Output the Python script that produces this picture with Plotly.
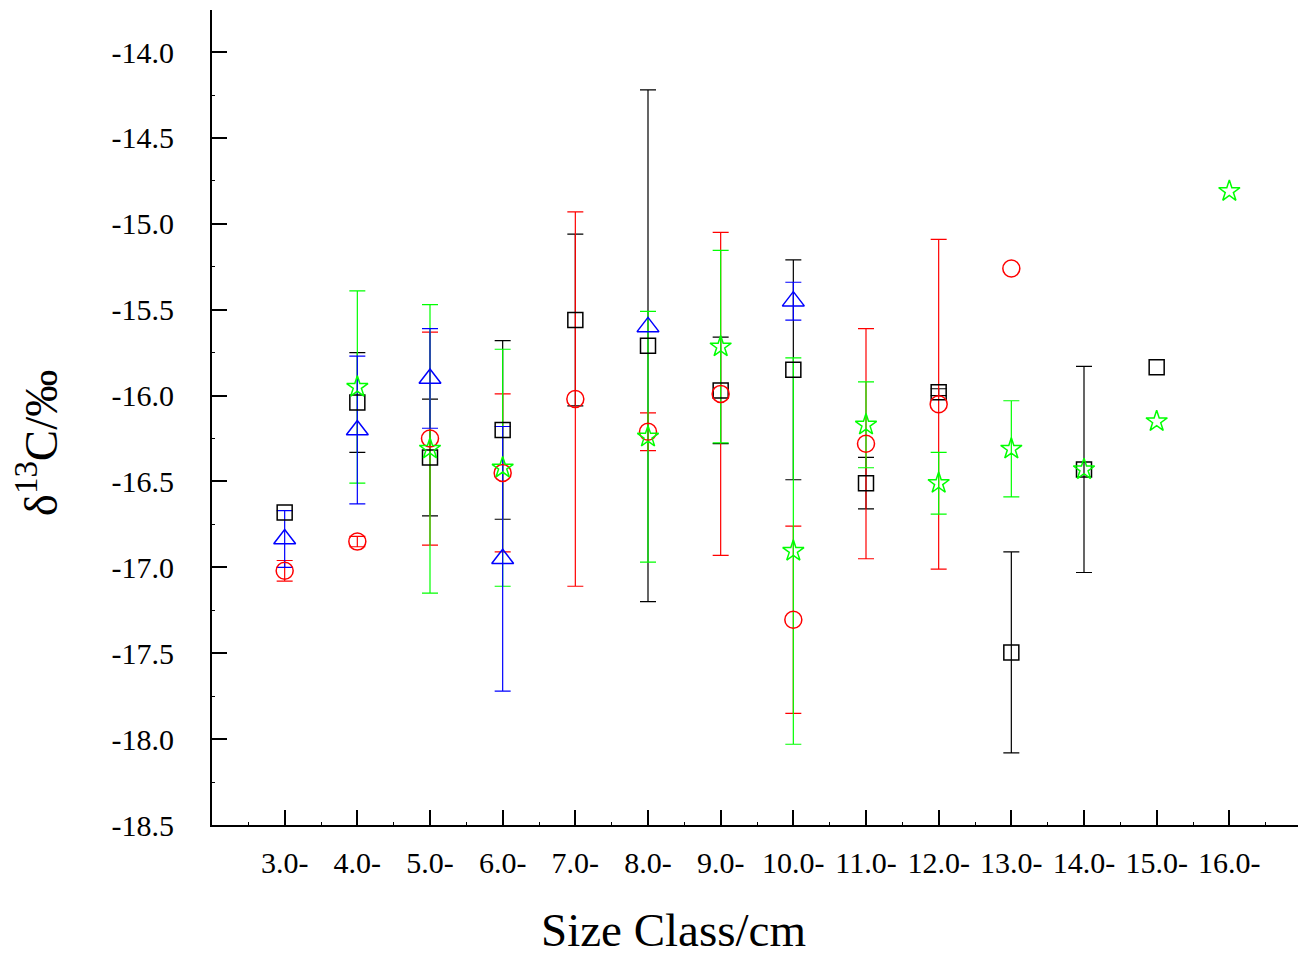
import plotly.graph_objects as go

size_class = [3, 4, 5, 6, 7, 8, 9, 10, 11, 12, 13, 14, 15, 16]
x_tick_vals = [3, 4, 5, 6, 7, 8, 9, 10, 11, 12, 13, 14, 15, 16, 17]
x_tick_text = ["3.0-", "4.0-", "5.0-", "6.0-", "7.0-", "8.0-", "9.0-", "10.0-",
               "11.0-", "12.0-", "13.0-", "14.0-", "15.0-", "16.0-", ""]
y_tick_vals = [-18.5, -18.0, -17.5, -17.0, -16.5, -16.0, -15.5, -15.0, -14.5, -14.0]
y_tick_text = ["-18.5", "-18.0", "-17.5", "-17.0", "-16.5", "-16.0", "-15.5",
               "-15.0", "-14.5", "-14.0"]

black_y = [-16.68, -16.04, -16.36, -16.20, -15.56, -15.71, -15.97, -15.85,
           -16.51, -15.98, -17.495, -16.43, -15.835, None]
black_err = [None, 0.29, 0.34, 0.52, 0.50, 1.49, 0.31, 0.64,
             0.15, 0.02, 0.585, 0.60, None, None]

red_y = [-17.02, -16.85, -16.25, -16.45, -16.02, -16.21, -15.99, -17.305,
         -16.28, -16.05, -15.26, None, None, None]
red_err = [0.06, 0.03, 0.62, 0.46, 1.09, 0.11, 0.94, 0.545,
           0.67, 0.96, None, None, None, None]

blue_y = [-16.835, -16.20, -15.90, -16.95, None, -15.60, None, -15.45,
          None, None, None, None, None, None]
blue_err = [0.165, 0.43, 0.29, 0.77, None, None, None, 0.11,
            None, None, None, None, None, None]

green_y = [None, -15.95, -16.31, -16.42, None, -16.24, -15.715, -16.905,
           -16.17, -16.51, -16.31, -16.43, -16.15, -14.81]
green_err = [None, 0.56, 0.84, 0.69, None, 0.73, 0.56, 1.125,
             0.25, 0.18, 0.28, None, None, None]

series = [
    ("black", black_y, black_err, "#000000", "square-open", 15),
    ("red", red_y, red_err, "#FF0000", "circle-open", 17),
    ("green", green_y, green_err, "#00FF00", "star-open", 16),
    ("blue", blue_y, blue_err, "#0000FF", "triangle-up-open", 19),
]

fig = go.Figure()
for name, ys, errs, color, symbol, msize in series:
    # error bars only where an error value exists
    ey = [y if (y is not None and e is not None) else None for y, e in zip(ys, errs)]
    ee = [e if e is not None else 0 for e in errs]
    fig.add_trace(go.Scatter(
        x=size_class, y=ey, mode="markers", name=name + " err",
        marker=dict(size=1, color="rgba(0,0,0,0)"),
        error_y=dict(type="data", array=ee, visible=True,
                     color=color, thickness=1.2, width=8),
        showlegend=False, hoverinfo="skip",
    ))
for name, ys, errs, color, symbol, msize in series:
    fig.add_trace(go.Scatter(
        x=size_class, y=ys, mode="markers", name=name,
        marker=dict(symbol=symbol, size=msize, color=color,
                    line=dict(color=color, width=1.5)),
        showlegend=False,
    ))

font_family = "Liberation Serif"

fig.update_layout(
    width=1298, height=951,
    margin=dict(l=204, r=4, t=2, b=134),
    paper_bgcolor="white", plot_bgcolor="white",
    font=dict(family=font_family, color="black"),
    xaxis=dict(
        range=[2, 17], tickmode="array", tickvals=x_tick_vals, ticktext=x_tick_text,
        ticks="inside", ticklen=15, tickwidth=1.5, tickcolor="black",
        showline=True, linecolor="black", linewidth=2,
        showgrid=False, zeroline=False,
        tickfont=dict(size=30, family=font_family),
        ticklabelstandoff=10,
        minor=dict(ticks="inside", ticklen=3, tickwidth=1, dtick=0.5,
                   tickcolor="black", showgrid=False),
    ),
    yaxis=dict(
        range=[-18.5, -13.755], tickmode="array", tickvals=y_tick_vals,
        ticktext=y_tick_text,
        ticks="inside", ticklen=15, tickwidth=1.5, tickcolor="black",
        showline=True, linecolor="black", linewidth=2,
        showgrid=False, zeroline=False,
        tickfont=dict(size=30, family=font_family),
        ticklabelstandoff=30,
        minor=dict(ticks="inside", ticklen=3, tickwidth=1, dtick=0.25,
                   tickcolor="black", showgrid=False),
    ),
    annotations=[
        dict(text="Size Class/cm", xref="paper", yref="paper",
             x=0.423, y=-0.129, xanchor="center", yanchor="middle",
             showarrow=False, font=dict(size=47, family=font_family)),
        dict(text="δ<sup>13</sup>C/‰", xref="paper", yref="paper",
             x=-0.1600, y=0.468, xanchor="center", yanchor="middle",
             textangle=-90, showarrow=False,
             font=dict(size=47, family=font_family)),
    ],
)

fig.write_html("out.html")
